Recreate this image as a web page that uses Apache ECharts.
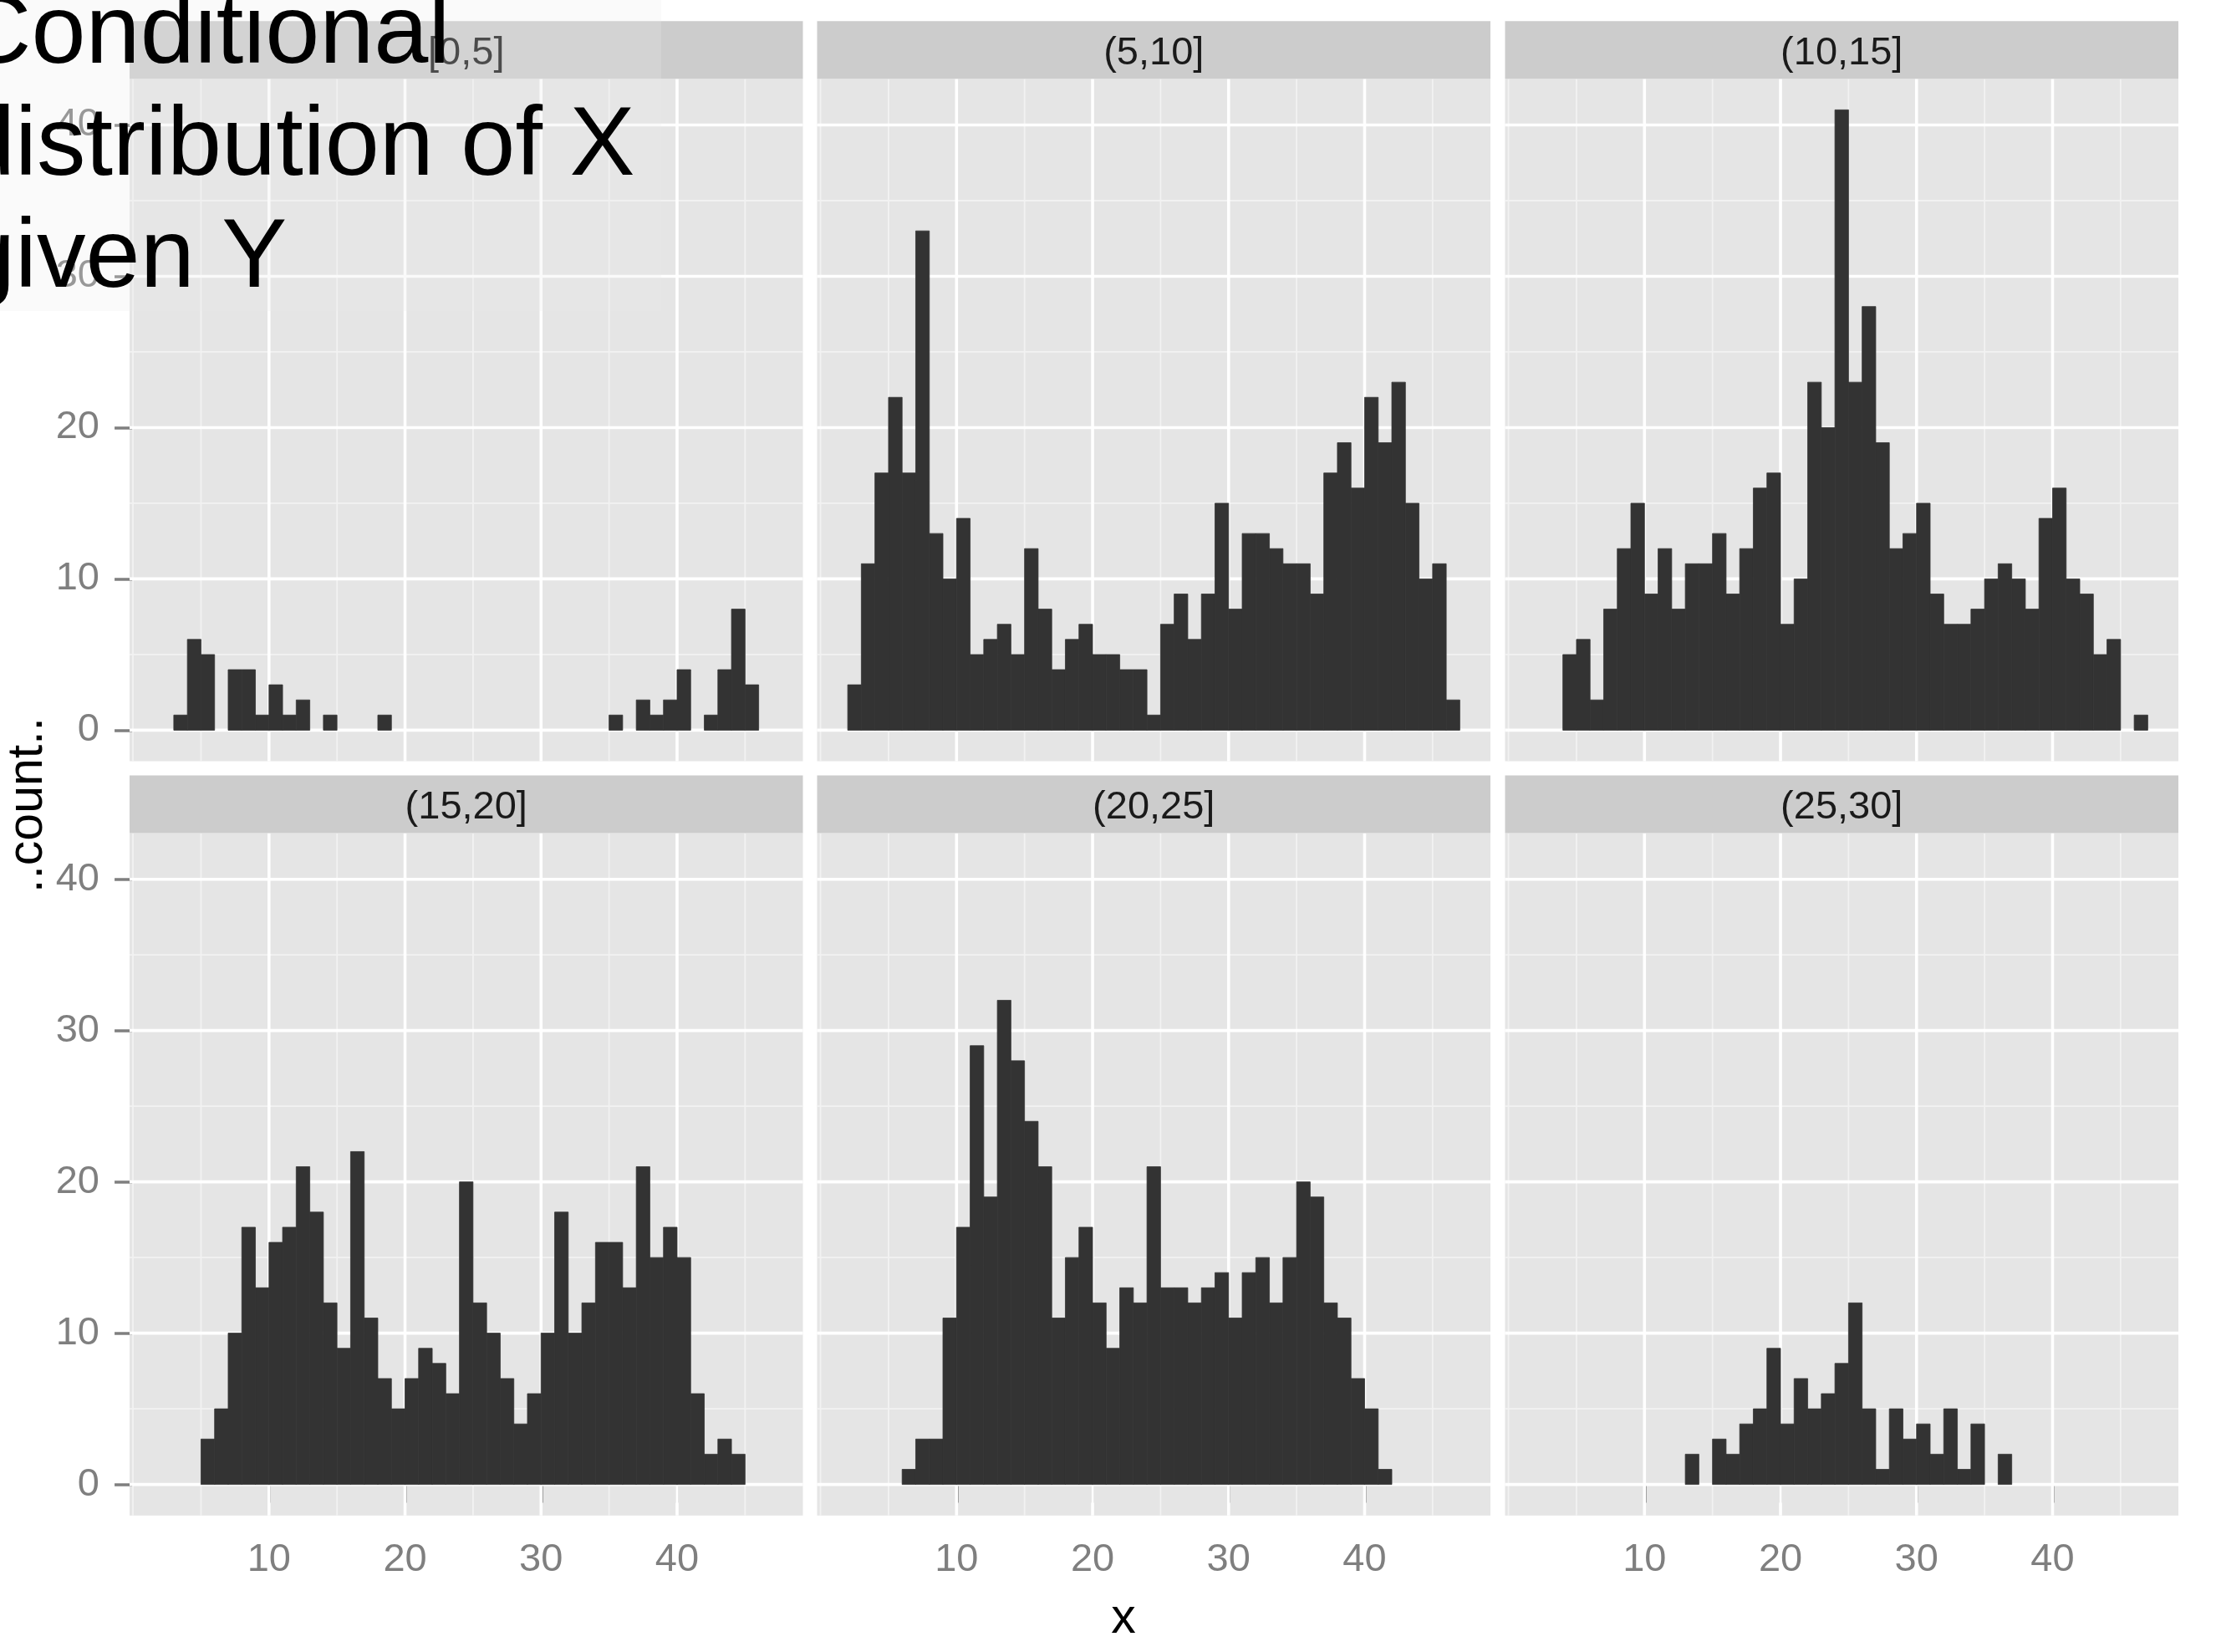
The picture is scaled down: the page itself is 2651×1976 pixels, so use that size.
<!DOCTYPE html>
<html>
<head>
<meta charset="utf-8">
<title>Conditional distribution of X given Y</title>
<script src="https://cdn.jsdelivr.net/npm/echarts@6/dist/echarts.min.js"></script>
<style>
  html, body { margin: 0; padding: 0; background: #ffffff; }
  #chart { width: 2651px; height: 1976px; }
</style>
</head>
<body>
<div id="chart"></div>
<script>
// Histogram of x, faceted by the interval of y. One bin per unit of x,
// the first bin starting at BIN_FIRST; each count array covers bins 2..46.
const BIN_FIRST = 2;
const BIN_WIDTH = 1;

const facetLabels = ['[0,5]', '(5,10]', '(10,15]', '(15,20]', '(20,25]', '(25,30]'];

const counts_0_5   = [0,1,6,5,0,4,4,1,3,1,2,0,1,0,0,0,1,0,0,0,0,0,0,0,0,0,0,0,0,0,0,0,0,1,0,2,1,2,4,0,1,4,8,3,0];
const counts_5_10  = [3,11,17,22,17,33,13,10,14,5,6,7,5,12,8,4,6,7,5,5,4,4,1,7,9,6,9,15,8,13,13,12,11,11,9,17,19,16,22,19,23,15,10,11,2];
const counts_10_15 = [0,0,5,6,2,8,12,15,9,12,8,11,11,13,9,12,16,17,7,10,23,20,41,23,28,19,12,13,15,9,7,7,8,10,11,10,8,14,16,10,9,5,6,0,1];
const counts_15_20 = [0,0,0,3,5,10,17,13,16,17,21,18,12,9,22,11,7,5,7,9,8,6,20,12,10,7,4,6,10,18,10,12,16,16,13,21,15,17,15,6,2,3,2,0,0];
const counts_20_25 = [0,0,0,0,1,3,3,11,17,29,19,32,28,24,21,11,15,17,12,9,13,12,21,13,13,12,13,14,11,14,15,12,15,20,19,12,11,7,5,1,0,0,0,0,0];
const counts_25_30 = [0,0,0,0,0,0,0,0,0,0,0,2,0,3,2,4,5,9,4,7,5,6,8,12,5,1,5,3,4,2,5,1,4,0,2,0,0,0,0,0,0,0,0,0,0];

const facetCounts = [counts_0_5, counts_5_10, counts_10_15, counts_15_20, counts_20_25, counts_25_30];

// Axis breaks
const xTicks = [10, 20, 30, 40];
const yTicks = [0, 10, 20, 30, 40];
const xMinor = [0, 5, 15, 25, 35, 45];
const yMinor = [5, 15, 25, 35];

// Axis ranges (data range padded by 5% on each side)
const X_MIN = -0.25, X_MAX = 49.25;
const Y_MIN = -2.05, Y_MAX = 43.05;

// Panel geometry
const COL_LEFT = [155, 977.5, 1800.5];
const ROW_TOP = [94.3, 996.5];
const PANEL_W = 805.5;
const PANEL_H = 816.2;
const STRIP_H = 69;
const TICK_LEN = 22;

const FONT = '"Liberation Sans", Arial, Helvetica, sans-serif';
const AXIS_GREY = '#7F7F7F';
const BAR_FILL = '#333333';

const grids = [], xAxes = [], yAxes = [], series = [], graphics = [];

const gridLineData = [
  ...xMinor.map(v => [0, v, 0]),
  ...yMinor.map(v => [1, v, 0]),
  ...xTicks.map(v => [0, v, 1]),
  ...yTicks.map(v => [1, v, 1])
];

function renderGridLine(params, api) {
  const dim = api.value(0), v = api.value(1), major = api.value(2);
  const a = dim === 0 ? api.coord([v, Y_MIN]) : api.coord([X_MIN, v]);
  const b = dim === 0 ? api.coord([v, Y_MAX]) : api.coord([X_MAX, v]);
  return {
    type: 'line',
    shape: { x1: a[0], y1: a[1], x2: b[0], y2: b[1] },
    style: { stroke: major ? '#FFFFFF' : '#F2F2F2', lineWidth: major ? 3.6 : 1.8 }
  };
}

function renderBin(params, api) {
  const x0 = api.value(0), n = api.value(1);
  const topLeft = api.coord([x0, n]);
  const bottomRight = api.coord([x0 + BIN_WIDTH, 0]);
  return {
    type: 'rect',
    shape: { x: topLeft[0], y: topLeft[1], width: bottomRight[0] - topLeft[0], height: bottomRight[1] - topLeft[1] },
    style: { fill: BAR_FILL, stroke: BAR_FILL, lineWidth: 0.8 }
  };
}

for (let i = 0; i < 6; i++) {
  const row = Math.floor(i / 3), col = i % 3;
  const left = COL_LEFT[col], top = ROW_TOP[row];

  grids.push({
    left: left, top: top, width: PANEL_W, height: PANEL_H,
    show: true, backgroundColor: '#E5E5E5', borderWidth: 0, containLabel: false
  });

  const showX = row === 1;
  const showY = col === 0;

  xAxes.push({
    type: 'value', gridIndex: i, min: X_MIN, max: X_MAX,
    axisLine: { show: false },
    splitLine: { show: false },
    axisTick: { show: showX, customValues: xTicks, length: TICK_LEN, lineStyle: { color: AXIS_GREY, width: 3.5 } },
    axisLabel: { show: showX, customValues: xTicks, margin: TICK_LEN + 8, color: AXIS_GREY, fontSize: 47, fontFamily: FONT }
  });
  yAxes.push({
    type: 'value', gridIndex: i, min: Y_MIN, max: Y_MAX,
    axisLine: { show: false },
    splitLine: { show: false },
    axisTick: { show: showY, customValues: yTicks, length: TICK_LEN, lineStyle: { color: AXIS_GREY, width: 3.5 } },
    axisLabel: { show: showY, customValues: yTicks, margin: TICK_LEN + 14, color: AXIS_GREY, fontSize: 47, fontFamily: FONT }
  });

  series.push({
    type: 'custom', name: 'grid ' + facetLabels[i], xAxisIndex: i, yAxisIndex: i,
    z: 1, silent: true, clip: false, renderItem: renderGridLine, data: gridLineData
  });

  const binData = facetCounts[i]
    .map((n, k) => [BIN_FIRST + k * BIN_WIDTH, n])
    .filter(d => d[1] > 0);
  series.push({
    type: 'custom', name: facetLabels[i], xAxisIndex: i, yAxisIndex: i,
    z: 2, silent: true, clip: true, renderItem: renderBin, data: binData
  });

  // facet strip
  graphics.push({
    type: 'rect', silent: true, z: 3,
    shape: { x: left, y: top - STRIP_H, width: PANEL_W, height: STRIP_H },
    style: { fill: '#CCCCCC' }
  });
  graphics.push({
    type: 'text', silent: true, z: 4,
    x: left + PANEL_W / 2, y: top - STRIP_H / 2 + 4,
    style: { text: facetLabels[i], fontSize: 47, fontFamily: FONT, fill: '#1A1A1A', align: 'center', verticalAlign: 'middle' }
  });
}

// axis titles
graphics.push({
  type: 'text', silent: true, z: 4, x: 34, y: 963, rotation: Math.PI / 2,
  style: { text: '..count..', fontSize: 59, fontFamily: FONT, fill: '#000000', align: 'center', verticalAlign: 'middle' }
});
graphics.push({
  type: 'text', silent: true, z: 4, x: 1344, y: 1937,
  style: { text: 'x', fontSize: 59, fontFamily: FONT, fill: '#000000', align: 'center', verticalAlign: 'middle' }
});

// title box laid over the top-left corner
graphics.push({
  type: 'rect', silent: true, z: 100,
  shape: { x: 0, y: 0, width: 791, height: 372 },
  style: { fill: 'rgba(234,234,234,0.24)' }
});
const titleLines = ['Conditional', 'distribution of X', 'given Y'];
titleLines.forEach((t, k) => {
  graphics.push({
    type: 'text', silent: true, z: 101, x: -47, y: 43 + k * 134,
    style: { text: t, fontSize: 117, fontFamily: FONT, fill: '#000000', align: 'left', verticalAlign: 'middle' }
  });
});

const chart = echarts.init(document.getElementById('chart'), null, { renderer: 'canvas', width: 2651, height: 1976 });
chart.setOption({
  animation: false,
  backgroundColor: '#FFFFFF',
  grid: grids,
  xAxis: xAxes,
  yAxis: yAxes,
  series: series,
  graphic: { elements: graphics }
});
</script>
</body>
</html>
